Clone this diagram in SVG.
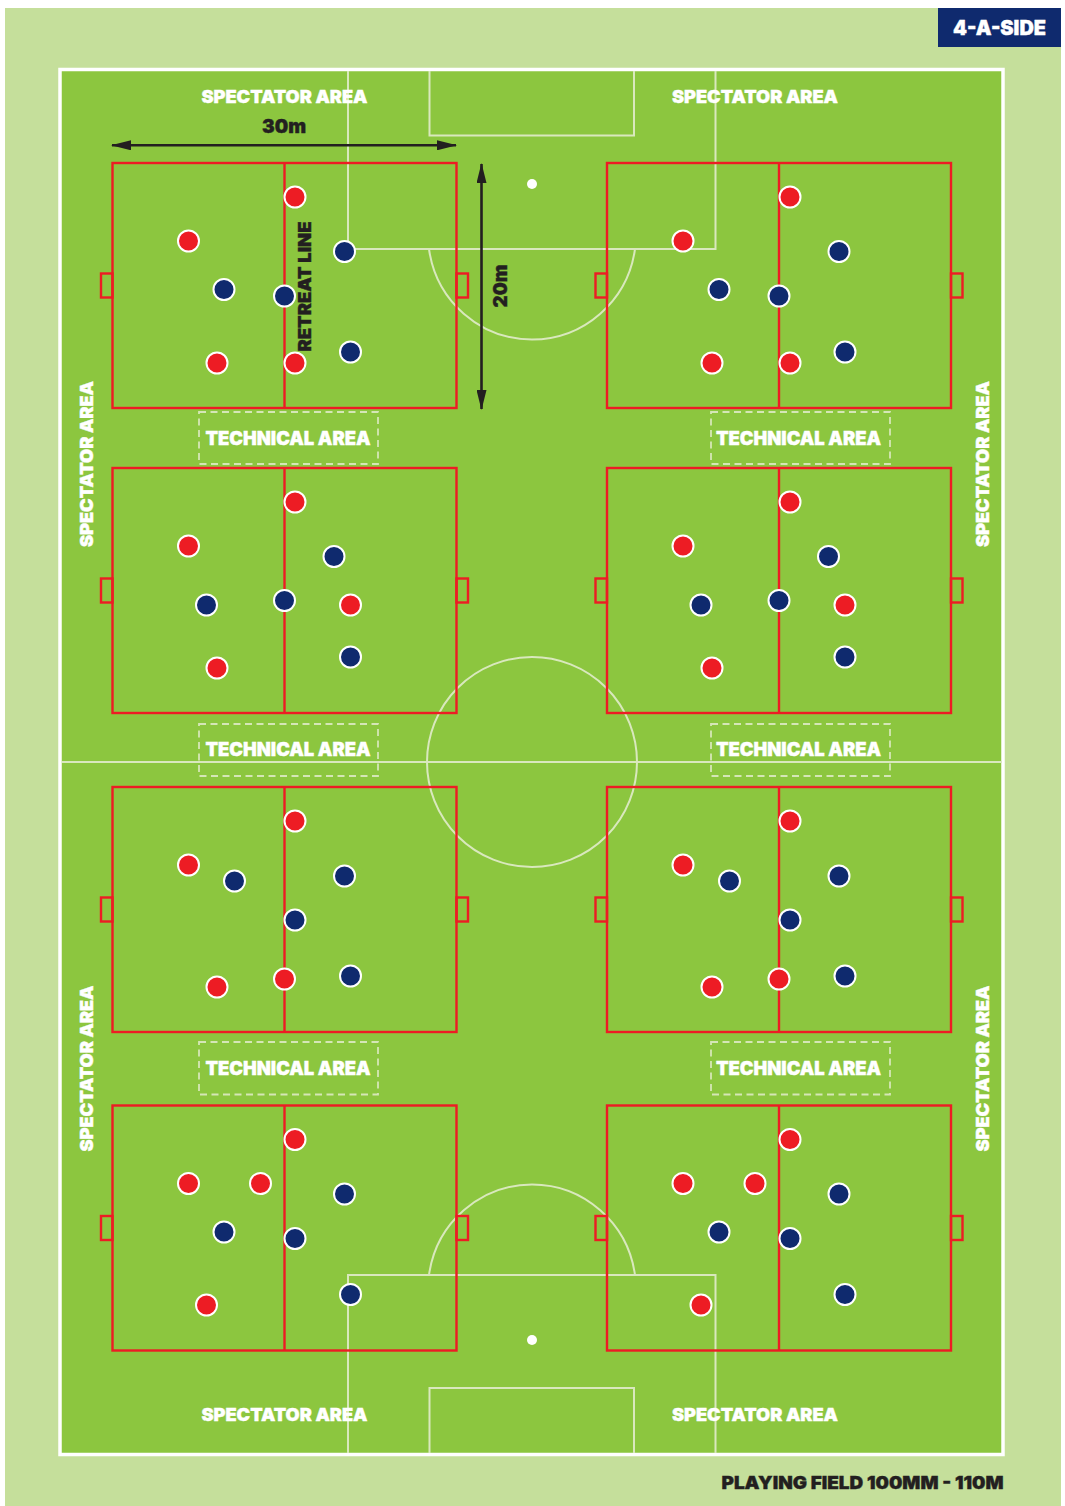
<svg xmlns="http://www.w3.org/2000/svg" width="1065" height="1506" viewBox="0 0 1065 1506">
<style>
text{font-family:"Inter","Liberation Sans",sans-serif;font-weight:900;text-anchor:middle;stroke-width:.4px;paint-order:stroke}
.w{fill:#fff;stroke:#fff}
.k{fill:#231f20;stroke:#231f20}
.sp{font-size:18px}
.ta{font-size:18.500px}
.f{fill:none;stroke:#d9e8bd;stroke-width:2}
.p{fill:none;stroke:#ed1c24;stroke-width:2.400}
.t{fill:none;stroke:#d5e6b6;stroke-width:1.800;stroke-dasharray:7 4.500}
.r{fill:#ed1c24;stroke:#fff;stroke-width:2}
.b{fill:#0f2a6e;stroke:#fff;stroke-width:2}
.a{fill:none;stroke:#231f20;stroke-width:2.600}
</style>
<defs>
<marker id="ah" viewBox="0 0 20 10" refX="19" refY="5" markerWidth="20" markerHeight="10" markerUnits="userSpaceOnUse" orient="auto-start-reverse"><path d="M0 0L20 5L0 10Z" fill="#231f20"/></marker>
<g id="pitch">
<rect class="p" x="0" y="0" width="344" height="245"/>
<path class="p" d="M172 0V245"/>
<rect class="p" x="-11.500" y="110.500" width="11.500" height="24"/>
<rect class="p" x="344" y="110.500" width="11.500" height="24"/>
</g>
<circle id="rd" class="r" r="10.500"/>
<circle id="bl" class="b" r="10.500"/>
</defs>
<rect id="surround" x="5" y="8" width="1056" height="1498" fill="#c5df9b"/>
<g id="field">
<rect x="60" y="69.500" width="943" height="1385" fill="#8cc63f" stroke="#fff" stroke-width="3.500"/>
<path class="f" d="M62 762H1002"/>
<circle class="f" cx="532" cy="762" r="105"/>
<path class="f" d="M348 71V249H715.500V71M429.500 71V135.500H634V71"/>
<path class="f" d="M429 249A104 105 0 0 0 635 249"/>
<circle cx="532" cy="184" r="5" fill="#fff"/>
<path class="f" d="M348 1453V1275H715.500V1453M429.500 1453V1388H634V1453"/>
<path class="f" d="M429 1275A104 105 0 0 1 635 1275"/>
<circle cx="532" cy="1340" r="5" fill="#fff"/>
</g>
<g id="pitch-1"><use href="#pitch" x="112.500" y="163"/>
<use href="#rd" x="295" y="197"/><use href="#rd" x="188.500" y="241"/><use href="#rd" x="217" y="363"/><use href="#rd" x="295" y="363"/>
<use href="#bl" x="344.500" y="251.500"/><use href="#bl" x="224" y="289.500"/><use href="#bl" x="284.500" y="296"/><use href="#bl" x="350.500" y="352"/></g>
<g id="pitch-2"><use href="#pitch" x="607" y="163"/>
<use href="#rd" x="790" y="197"/><use href="#rd" x="683" y="241"/><use href="#rd" x="712" y="363"/><use href="#rd" x="790" y="363"/>
<use href="#bl" x="839" y="251.500"/><use href="#bl" x="719" y="289.500"/><use href="#bl" x="779" y="296"/><use href="#bl" x="845" y="352"/></g>
<g id="pitch-3"><use href="#pitch" x="112.500" y="468"/>
<use href="#rd" x="295" y="502"/><use href="#rd" x="188.500" y="546"/><use href="#rd" x="350.500" y="605"/><use href="#rd" x="217" y="668"/>
<use href="#bl" x="334" y="556.500"/><use href="#bl" x="206.500" y="605"/><use href="#bl" x="284.500" y="600.500"/><use href="#bl" x="350.500" y="657"/></g>
<g id="pitch-4"><use href="#pitch" x="607" y="468"/>
<use href="#rd" x="790" y="502"/><use href="#rd" x="683" y="546"/><use href="#rd" x="845" y="605"/><use href="#rd" x="712" y="668"/>
<use href="#bl" x="828.500" y="556.500"/><use href="#bl" x="701" y="605"/><use href="#bl" x="779" y="600.500"/><use href="#bl" x="845" y="657"/></g>
<g id="pitch-5"><use href="#pitch" x="112.500" y="787"/>
<use href="#rd" x="295" y="821"/><use href="#rd" x="188.500" y="865"/><use href="#rd" x="217" y="987"/><use href="#rd" x="284.500" y="979"/>
<use href="#bl" x="234.500" y="881"/><use href="#bl" x="344.500" y="876"/><use href="#bl" x="295" y="920"/><use href="#bl" x="350.500" y="976"/></g>
<g id="pitch-6"><use href="#pitch" x="607" y="787"/>
<use href="#rd" x="790" y="821"/><use href="#rd" x="683" y="865"/><use href="#rd" x="712" y="987"/><use href="#rd" x="779" y="979"/>
<use href="#bl" x="729.500" y="881"/><use href="#bl" x="839" y="876"/><use href="#bl" x="790" y="920"/><use href="#bl" x="845" y="976"/></g>
<g id="pitch-7"><use href="#pitch" x="112.500" y="1105.500"/>
<use href="#rd" x="295" y="1139.500"/><use href="#rd" x="188.500" y="1183.500"/><use href="#rd" x="260.500" y="1183.500"/><use href="#rd" x="206.500" y="1305"/>
<use href="#bl" x="344.500" y="1194"/><use href="#bl" x="224" y="1232"/><use href="#bl" x="295" y="1238.500"/><use href="#bl" x="350.500" y="1294.500"/></g>
<g id="pitch-8"><use href="#pitch" x="607" y="1105.500"/>
<use href="#rd" x="790" y="1139.500"/><use href="#rd" x="683" y="1183.500"/><use href="#rd" x="755" y="1183.500"/><use href="#rd" x="701" y="1305"/>
<use href="#bl" x="839" y="1194"/><use href="#bl" x="719" y="1232"/><use href="#bl" x="790" y="1238.500"/><use href="#bl" x="845" y="1294.500"/></g>
<g id="technical-areas">
<g id="tech-1"><rect class="t" x="199" y="412" width="179" height="52"/><text class="w ta" x="288" y="444.500" textLength="165" lengthAdjust="spacingAndGlyphs">TECHNICAL AREA</text></g>
<g id="tech-2"><rect class="t" x="711" y="412" width="179" height="52"/><text class="w ta" x="798.500" y="444.500" textLength="165" lengthAdjust="spacingAndGlyphs">TECHNICAL AREA</text></g>
<g id="tech-3"><rect class="t" x="199" y="724" width="179" height="52"/><text class="w ta" x="288" y="756" textLength="165" lengthAdjust="spacingAndGlyphs">TECHNICAL AREA</text></g>
<g id="tech-4"><rect class="t" x="711" y="724" width="179" height="52"/><text class="w ta" x="798.500" y="756" textLength="165" lengthAdjust="spacingAndGlyphs">TECHNICAL AREA</text></g>
<g id="tech-5"><rect class="t" x="199" y="1042" width="179" height="52.500"/><text class="w ta" x="288" y="1074.500" textLength="165" lengthAdjust="spacingAndGlyphs">TECHNICAL AREA</text></g>
<g id="tech-6"><rect class="t" x="711" y="1042" width="179" height="52.500"/><text class="w ta" x="798.500" y="1074.500" textLength="165" lengthAdjust="spacingAndGlyphs">TECHNICAL AREA</text></g>
</g>
<g id="spectator-labels">
<text class="w sp" x="284.500" y="102.500" textLength="166" lengthAdjust="spacingAndGlyphs">SPECTATOR AREA</text>
<text class="w sp" x="755" y="102.500" textLength="166" lengthAdjust="spacingAndGlyphs">SPECTATOR AREA</text>
<text class="w sp" x="284.500" y="1420.500" textLength="166" lengthAdjust="spacingAndGlyphs">SPECTATOR AREA</text>
<text class="w sp" x="755" y="1420.500" textLength="166" lengthAdjust="spacingAndGlyphs">SPECTATOR AREA</text>
<text class="w sp" transform="translate(92.500 464) rotate(-90)" textLength="166" lengthAdjust="spacingAndGlyphs">SPECTATOR AREA</text>
<text class="w sp" transform="translate(988.500 464) rotate(-90)" textLength="166" lengthAdjust="spacingAndGlyphs">SPECTATOR AREA</text>
<text class="w sp" transform="translate(92.500 1068.500) rotate(-90)" textLength="166" lengthAdjust="spacingAndGlyphs">SPECTATOR AREA</text>
<text class="w sp" transform="translate(988.500 1068.500) rotate(-90)" textLength="166" lengthAdjust="spacingAndGlyphs">SPECTATOR AREA</text>
</g>
<g id="connectors">
<path class="a" d="M112 145.300H456" marker-start="url(#ah)" marker-end="url(#ah)"/>
<path class="a" d="M481.500 164V409" marker-start="url(#ah)" marker-end="url(#ah)"/>
</g>
<g id="dimension-labels">
<text class="k" x="284" y="133" font-size="19" textLength="44" lengthAdjust="spacingAndGlyphs">30m</text>
<text class="k" transform="translate(507 286) rotate(-90)" font-size="19" textLength="43" lengthAdjust="spacingAndGlyphs">20m</text>
<text class="k" transform="translate(311 286.500) rotate(-90)" font-size="18" textLength="130" lengthAdjust="spacingAndGlyphs">RETREAT LINE</text>
<text class="k" x="862.500" y="1489" font-size="18" textLength="282" lengthAdjust="spacingAndGlyphs">PLAYING FIELD 100MM - 110M</text>
</g>
<g id="badge">
<rect x="938" y="8" width="123" height="39" fill="#0f2a6e"/>
<text class="w" x="999.500" y="34.500" font-size="20" textLength="93" lengthAdjust="spacingAndGlyphs">4-A-SIDE</text>
</g>
</svg>
